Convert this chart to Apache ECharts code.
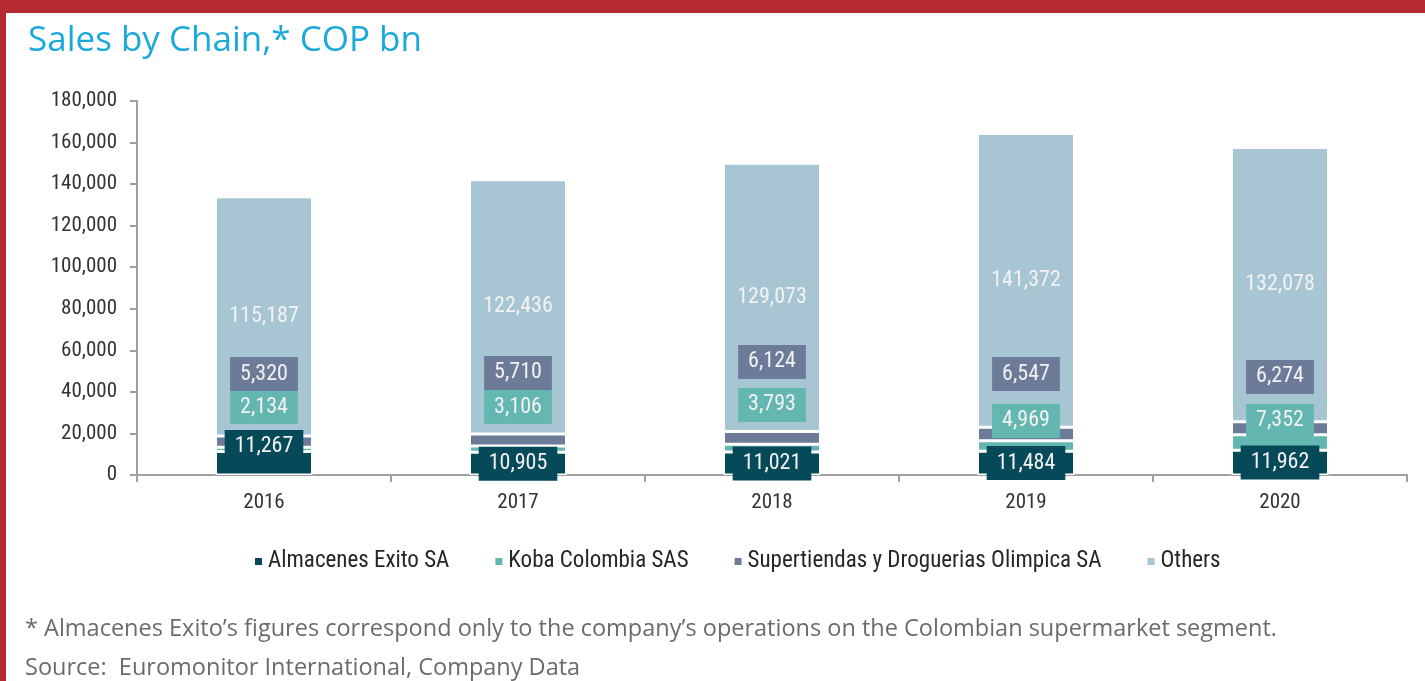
<!DOCTYPE html>
<html>
<head>
<meta charset="utf-8">
<title>Sales by Chain</title>
<script src="https://cdn.jsdelivr.net/npm/echarts@6/dist/echarts.min.js"></script>
<style>
    html, body { margin: 0; padding: 0; background: #ffffff; }
    #chart { width: 1425px; height: 681px; }
</style>
</head>
<body>
<div id="chart"></div>
<script>
// Chart data (COP bn)
const years = ['2016', '2017', '2018', '2019', '2020'];
const exito = [11267, 10905, 11021, 11484, 11962];
const koba = [2134, 3106, 3793, 4969, 7352];
const olimpica = [5320, 5710, 6124, 6547, 6274];
const others = [115187, 122436, 129073, 141372, 132078];

// Where the data labels sit (value on the y scale), null = middle of segment
const exitoLabelAt = [13500, null, null, null, null];
const kobaLabelAt = [32700, 32700, 33700, 26000, 26000];
const olimpicaLabelAt = [48600, 49100, 54400, 48600, 47200];

const seriesNames = ['Almacenes Exito SA', 'Koba Colombia SAS', 'Supertiendas y Droguerias Olimpica SA', 'Others'];
const colors = ['#064a59', '#64b6b0', '#6b7b98', '#a8c5d3'];

const narrowFont = "'Liberation Sans Narrow', 'Arial Narrow', 'Roboto Condensed', sans-serif";
const textFont = "'Open Sans', 'Noto Sans', sans-serif";

const chart = echarts.init(document.getElementById('chart'), null, { renderer: 'canvas' });

/**
 * Label style shared by every series, background takes the series colour
 */
function makeLabel(bg) {
    return {
        show: true,
        position: 'inside',
        formatter: (p) => p.value.toLocaleString('en-US'),
        color: '#f2f2f2',
        fontFamily: narrowFont,
        fontSize: 22,
        backgroundColor: bg,
        padding: [7, 10, 5, 10],
    };
}

function barSeries(name, values, idx) {
    return {
        name: name,
        type: 'bar',
        stack: 'total',
        barWidth: 97,
        data: values.slice(),
        itemStyle: { color: colors[idx], borderColor: '#ffffff', borderWidth: 1.5 },
        label: idx === 3
            ? Object.assign(makeLabel('transparent'), { padding: 0 })
            : makeLabel(colors[idx]),
        emphasis: { disabled: true },
    };
}

const option = {
    animation: false,
    backgroundColor: '#ffffff',
    textStyle: { fontFamily: narrowFont },
    title: {
        text: 'Sales by Chain,* COP bn',
        left: 23,
        top: 19,
        textStyle: { color: '#1ba9dc', fontFamily: textFont, fontSize: 35, fontWeight: 'normal' },
    },
    graphic: [
        // red frame on top and left
        { type: 'rect', left: 0, top: 0, shape: { width: 1425, height: 13 }, style: { fill: '#b52a33' }, z: 100 },
        { type: 'rect', left: 0, top: 0, shape: { width: 6, height: 681 }, style: { fill: '#b52a33' }, z: 100 },
        {
            type: 'text', left: 25, top: 617,
            style: {
                text: '* Almacenes Exito\u2019s figures correspond only to the company\u2019s operations on the Colombian supermarket segment.',
                fill: '#6b6b6b', font: "23.5px 'Open Sans', 'Noto Sans', sans-serif",
            },
        },
        {
            type: 'text', left: 25, top: 656,
            style: {
                text: 'Source:  Euromonitor International, Company Data',
                fill: '#6b6b6b', font: "23.5px 'Open Sans', 'Noto Sans', sans-serif",
            },
        },
    ],
    legend: {
        left: 248,
        top: 545,
        itemWidth: 9,
        itemHeight: 9,
        itemGap: 44,
        icon: 'rect',
        textStyle: { color: '#262626', fontFamily: narrowFont, fontSize: 23 },
        data: seriesNames,
    },
    grid: { left: 137, right: 18, top: 101, bottom: 206, containLabel: false },
    xAxis: {
        type: 'category',
        data: years,
        axisLine: { lineStyle: { color: '#a0a0a0', width: 2 } },
        axisTick: { show: true, alignWithLabel: false, length: 7, lineStyle: { color: '#a0a0a0', width: 2 } },
        axisLabel: { color: '#333333', fontSize: 21, fontFamily: narrowFont, margin: 17 },
    },
    yAxis: {
        type: 'value',
        min: 0,
        max: 180000,
        interval: 20000,
        axisLine: { show: true, lineStyle: { color: '#a0a0a0', width: 2 } },
        axisTick: { show: true, length: 7, lineStyle: { color: '#a0a0a0', width: 2 } },
        splitLine: { show: false },
        axisLabel: {
            color: '#333333', fontSize: 21, fontFamily: narrowFont, margin: 20,
            formatter: (v) => v.toLocaleString('en-US'),
        },
    },
    series: [
        barSeries(seriesNames[0], exito, 0),
        barSeries(seriesNames[1], koba, 1),
        barSeries(seriesNames[2], olimpica, 2),
        barSeries(seriesNames[3], others, 3),
    ],
};

chart.setOption(option);

/**
 * Move labels to the requested heights by offsetting them from the segment centre
 */
function placedData(values, below, labelAt) {
    return values.map((v, i) => {
        if (labelAt[i] == null) {
            return v;
        }
        const mid = below[i] + v / 2;
        const yMid = chart.convertToPixel({ gridIndex: 0 }, [i, mid])[1];
        const yAt = chart.convertToPixel({ gridIndex: 0 }, [i, labelAt[i]])[1];
        return { value: v, label: { offset: [0, yAt - yMid] } };
    });
}

const zeros = years.map(() => 0);
const belowKoba = exito.slice();
const belowOlimpica = exito.map((v, i) => v + koba[i]);

chart.setOption({
    series: [
        { data: placedData(exito, zeros, exitoLabelAt) },
        { data: placedData(koba, belowKoba, kobaLabelAt) },
        { data: placedData(olimpica, belowOlimpica, olimpicaLabelAt) },
        {},
    ],
});
</script>
</body>
</html>
